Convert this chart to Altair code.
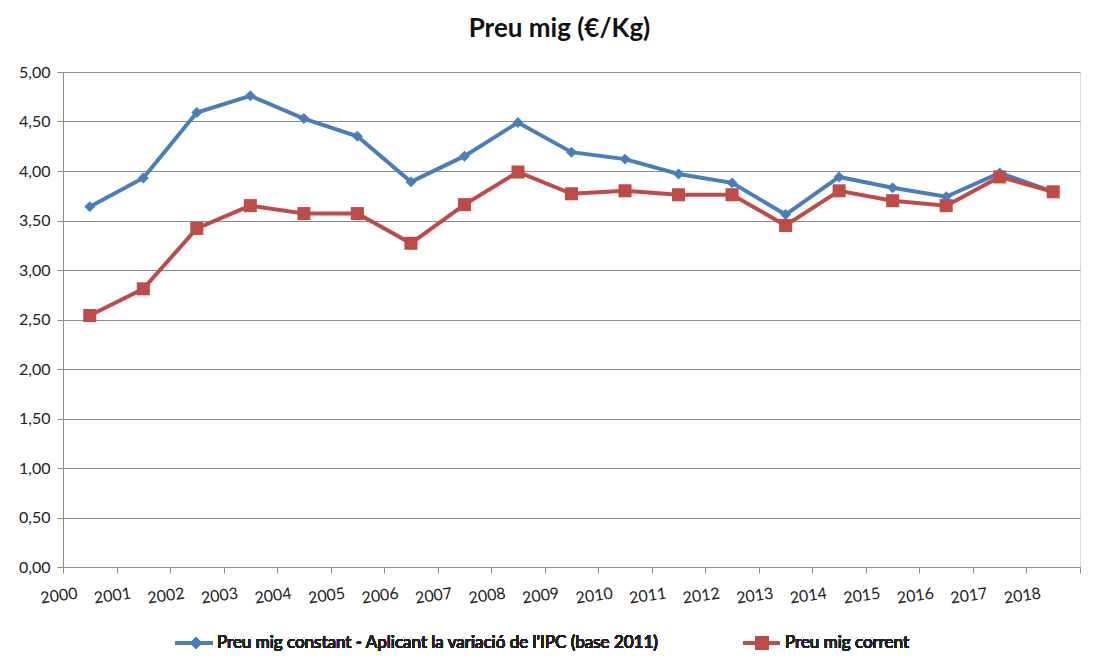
import altair as alt
import pandas as pd

years = [str(y) for y in range(2000, 2019)]
constant = [3.64, 3.93, 4.59, 4.76, 4.53, 4.35, 3.89, 4.15, 4.49, 4.19, 4.12,
            3.97, 3.88, 3.56, 3.94, 3.83, 3.74, 3.98, 3.79]
current = [2.54, 2.81, 3.42, 3.65, 3.57, 3.57, 3.27, 3.66, 3.99, 3.77, 3.80,
           3.76, 3.76, 3.45, 3.80, 3.70, 3.65, 3.94, 3.79]
series_names = ["Preu mig constant - Aplicant la variació de l'IPC (base 2011)",
                "Preu mig corrent"]
colors = ["#4A7EBB", "#BE4B48"]
y_ticks = [0, 0.5, 1, 1.5, 2, 2.5, 3, 3.5, 4, 4.5, 5]

rows = []
for i, yr in enumerate(years):
    rows.append({"year": yr, "value": constant[i], "series": series_names[0]})
    rows.append({"year": yr, "value": current[i], "series": series_names[1]})
df = pd.DataFrame(rows)

FONT = "Lato"
W, H = 1017, 495

x = alt.X("year:O", title=None, sort=years,
          scale=alt.Scale(paddingInner=0, paddingOuter=0),
          axis=alt.Axis(labelAngle=-8, labelFontSize=16, labelFont=FONT,
                        labelColor="#222222", labelPadding=12, labelOffset=-14,
                        tickBand="extent", tickSize=6, tickColor="#8c8c8c",
                        domainColor="#8c8c8c", grid=False))
y = alt.Y("value:Q", title=None,
          scale=alt.Scale(domain=[0, 5], nice=False),
          axis=alt.Axis(values=y_ticks, labelFontSize=16, labelFont=FONT,
                        labelColor="#222222", labelPadding=7,
                        labelExpr="replace(format(datum.value, '.2f'), '.', ',')",
                        tickSize=6, tickColor="#8c8c8c", domainColor="#8c8c8c",
                        grid=True, gridColor="#8c8c8c", gridWidth=1))

color = alt.Color("series:N", scale=alt.Scale(domain=series_names, range=colors),
                  legend=None)

base = alt.Chart(df)
lines = base.mark_line(strokeWidth=4).encode(x=x, y=y, color=color, detail="series:N")
pts_c = base.transform_filter(alt.datum.series == series_names[0]).mark_point(
    shape="diamond", filled=True, size=120, opacity=1).encode(x=x, y=y, color=color)
pts_r = base.transform_filter(alt.datum.series == series_names[1]).mark_point(
    shape="square", filled=True, size=170, opacity=1).encode(x=x, y=y, color=color)

# legend (decoration)
leg_y = H + 76
leg1_line = base.mark_rule(color=colors[0], strokeWidth=4).encode(
    x=alt.value(175 - 63), x2=alt.value(213 - 63), y=alt.value(leg_y))
leg1_pt = base.mark_point(shape="diamond", filled=True, size=120, color=colors[0], opacity=1).encode(
    x=alt.value(196 - 63), y=alt.value(leg_y))
leg1_txt = base.mark_text(align="left", baseline="middle", fontSize=17, font=FONT,
                          color="#222222", text=series_names[0]).encode(
    x=alt.value(217 - 63), y=alt.value(leg_y))
leg2_line = base.mark_rule(color=colors[1], strokeWidth=4).encode(
    x=alt.value(743 - 63), x2=alt.value(780 - 63), y=alt.value(leg_y))
leg2_pt = base.mark_point(shape="square", filled=True, size=170, color=colors[1], opacity=1).encode(
    x=alt.value(762 - 63), y=alt.value(leg_y))
leg2_txt = base.mark_text(align="left", baseline="middle", fontSize=17, font=FONT,
                          color="#222222", text=series_names[1]).encode(
    x=alt.value(785 - 63), y=alt.value(leg_y))

chart = alt.layer(lines, pts_c, pts_r, leg1_line, leg1_pt, leg1_txt,
                  leg2_line, leg2_pt, leg2_txt).properties(
    width=W, height=H,
    title=alt.Title("Preu mig (€/Kg)", fontSize=26, font=FONT, fontWeight="bold",
                    color="#111111", anchor="middle", offset=22, dx=-12),
    autosize=alt.AutoSizeParams(type="none"),
    padding={"left": 55, "top": 64, "right": 8, "bottom": 90},
).configure_view(stroke=None).configure(background="white")

chart.save("out.html", embed_options={"renderer": "svg", "actions": False})
